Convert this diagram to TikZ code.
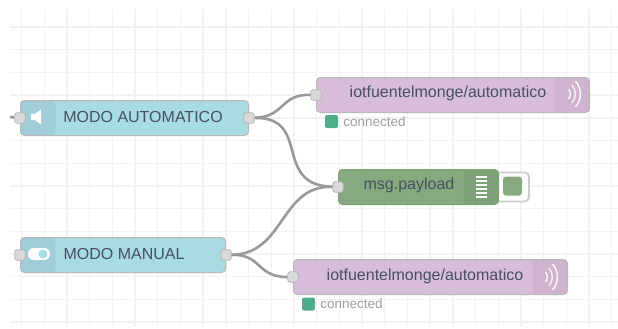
\documentclass[tikz,border=0pt]{standalone}
\usepackage{fontspec}
\setmainfont{Liberation Sans}
\usepackage{xcolor}
\usetikzlibrary{positioning}
\definecolor{injectcol}{HTML}{A8DCE3}
\definecolor{injectdark}{HTML}{A0CDD7}
\definecolor{mqttcol}{HTML}{D8BDD8}
\definecolor{mqttdark}{HTML}{CFB3CF}
\definecolor{debugcol}{HTML}{87A980}
\definecolor{debugdark}{HTML}{7FA178}
\definecolor{statuscol}{HTML}{4FAE87}
\definecolor{wirecol}{HTML}{999999}
\definecolor{textcol}{HTML}{47505E}

\begin{document}
\begin{tikzpicture}[x=1pt,y=-1pt]
		\tikzset{
			box/.style={rectangle, draw=black!28, line width=1pt, rounded corners=4pt, minimum height=35pt,
			inner sep=0pt, anchor=north west},
			port/.style={rectangle, draw=black!30, fill=black!15, rounded corners=2.5pt, line width=0.8pt,
			minimum size=10.5pt, inner sep=0pt},
			lbl/.style={font=\fontsize{16}{16}\selectfont, text=textcol, inner sep=0pt},
			stat/.style={rectangle, fill=statuscol, rounded corners=2pt, minimum size=13pt, inner sep=0pt},
			stattext/.style={font=\fontsize{13.5}{13.5}\selectfont, text=black!38, inner sep=0pt},
			wire/.style={draw=wirecol, line width=2.6pt},
			leftdark/.style={path picture={\fill[#1] (path picture bounding box.north west) rectangle
			([xshift=35pt]path picture bounding box.south west);}},
			rightdark/.style={path picture={\fill[#1] (path picture bounding box.north east) rectangle
			([xshift=-35pt]path picture bounding box.south east);}},
		}
		\useasboundingbox (0,0) rectangle (618,329);

		% background grid
		\foreach \gx in {0,...,26}
			\draw[black!5, line width=1.4pt] (21.5+22.7*\gx,9) -- (21.5+22.7*\gx,326);
		\foreach \gy in {0,...,13}
			\draw[black!5, line width=1.4pt] (10,27+22.7*\gy) -- (618,27+22.7*\gy);

		% nodes
		\node[box, fill=injectcol, leftdark=injectdark, minimum width=228pt](auto) at (20,100){};
		\node[box, fill=injectcol, leftdark=injectdark, minimum width=205pt](manual) at (20,237){};
		\node[box, fill=mqttcol, rightdark=mqttdark, minimum width=273pt](pubtop) at (316,77){};
		\node[box, fill=mqttcol, rightdark=mqttdark, minimum width=274pt](pubbot) at (293,259){};
		\node[box, draw=black!20, line width=1.8pt, fill=white, minimum width=36pt, minimum height=29pt](btn) at (492,171.5){};
		\node[box, draw=debugdark, fill=debugcol, rightdark=debugdark, minimum width=160pt](debug) at (338,169){};
		\node[rectangle, fill=debugcol, rounded corners=3pt, minimum size=19pt, inner sep=0pt](btnin) at (512.5,186){};

		% labels
		\node[lbl](autotxt) at (143,116.5){MODO AUTOMATICO};
		\node[lbl](manualtxt) at (124,253.5){MODO MANUAL};
		\node[lbl](toptxt) at (448,93.5){iotfuentelmonge/automatico};
		\node[lbl](bottxt) at (425,276){iotfuentelmonge/automatico};
		\node[lbl](debugtxt) at (409,185){msg.payload};

		% status
		\node[stat](statop) at (331.5,121.5){};
		\node[stattext, right=5pt of statop](contop){connected};
		\node[stat](stabot) at (308.5,304){};
		\node[stattext, right=5pt of stabot](conbot){connected};

		% ports
		\node[port](autoin) at (auto.west){};
		\node[port](autoout) at (auto.east){};
		\node[port](manualin) at (manual.west){};
		\node[port](manualout) at (manual.east){};
		\node[port](topin) at (pubtop.west){};
		\node[port](botin) at (pubbot.west){};
		\node[port](debugin) at (debug.west){};
		\coordinate(stub) at (10,117);

		% wires
		\draw[wire](stub) -- (autoin);
		\draw[wire](autoout) .. controls (285,117) and (280,94) .. (topin);
		\draw[wire](autoout) .. controls (312,117) and (272,185) .. (debugin);
		\draw[wire](manualout) .. controls (285,254) and (280,185) .. (debugin);
		\draw[wire](manualout) .. controls (262,254) and (256,277) .. (botin);

		% icons
		\fill[white] (31,114) -- (35,114) -- (41,109.5) -- (41,124.5) -- (35,120) -- (31,120) -- cycle;
		\fill[white, rounded corners=5.9pt] (28,248) rectangle (50,260);
		\fill[injectcol] (43,254) circle (4.5pt);
		\foreach \ly in {177,181,185,189,193,197}
			\draw[white, line width=1.4pt] (476,\ly) -- (487,\ly);
		\foreach \wx/\wy/\wo in {3/5/0.9, 6.5/9/0.85, 10/13/0.95}{
			\draw[white, line width=1.4pt, opacity=\wo] (565.5+\wx,94-\wy) .. controls (565.5+\wx+\wy*0.5,94-\wy*0.4) and (565.5+\wx+\wy*0.5,94+\wy*0.4) .. (565.5+\wx,94+\wy);
			\draw[white, line width=1.4pt, opacity=\wo] (542.5+\wx,277-\wy) .. controls (542.5+\wx+\wy*0.5,277-\wy*0.4) and (542.5+\wx+\wy*0.5,277+\wy*0.4) .. (542.5+\wx,277+\wy);
		}
	\end{tikzpicture}
\end{document}
